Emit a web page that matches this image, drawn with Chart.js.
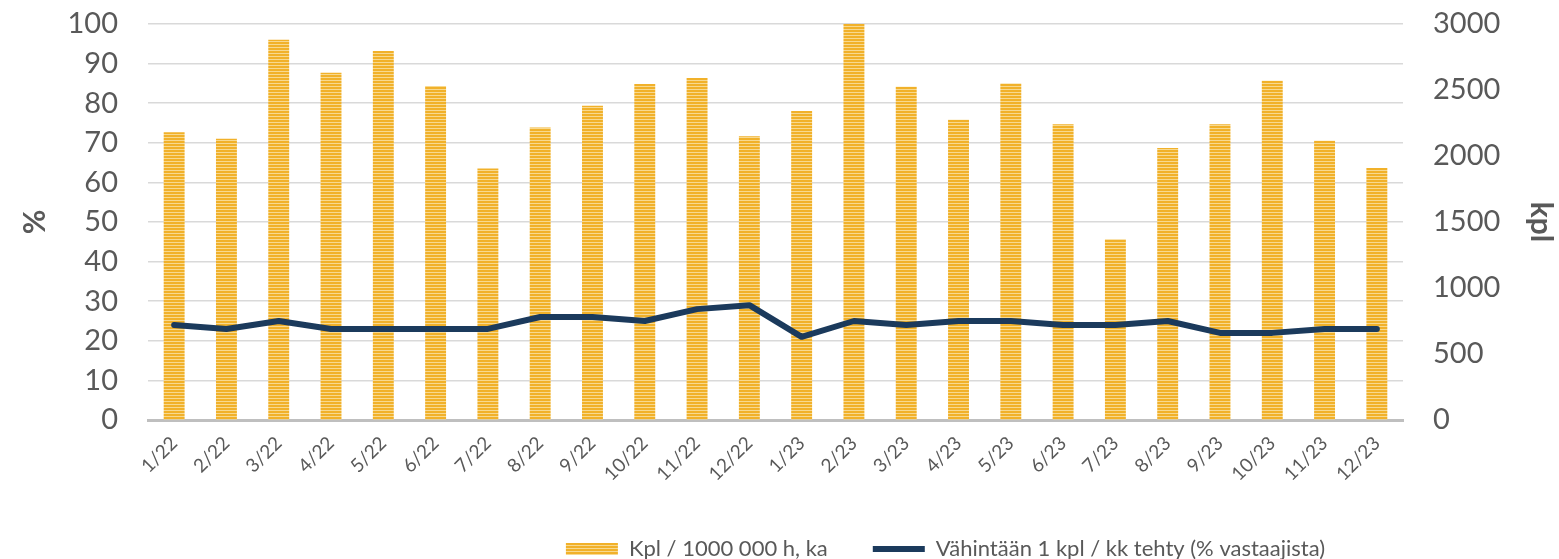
<!DOCTYPE html>
<html><head><meta charset="utf-8">
<script src="https://cdn.jsdelivr.net/npm/chart.js@4/dist/chart.umd.min.js"></script>
<style>html,body{margin:0;padding:0;background:#fff;overflow:hidden}</style>
</head><body>
<canvas id="c" width="1559" height="559" style="width:1559px;height:559px;display:block"></canvas>
<script>
const categories = ['1/22','2/22','3/22','4/22','5/22','6/22','7/22','8/22','9/22','10/22','11/22','12/22',
  '1/23','2/23','3/23','4/23','5/23','6/23','7/23','8/23','9/23','10/23','11/23','12/23'];
const kplValues = [2180,2130,2880,2630,2795,2530,1905,2215,2380,2545,2590,2150,
  2340,3000,2525,2275,2550,2240,1370,2060,2240,2570,2115,1910];
const percentValues = [24,23,25,23,23,23,23,26,26,25,28,29,
  21,25,24,25,25,24,24,25,22,22,23,23];
const barLabel = 'Kpl / 1000 000 h, ka';
const lineLabel = 'Vähintään 1 kpl / kk tehty (% vastaajista)';
const leftTitle = '%';
const rightTitle = 'kpl';

const FONT = 'Lato, "Open Sans", sans-serif';
const TXT = '#595959';

function stripePattern() {
  const p = document.createElement('canvas');
  p.width = 4; p.height = 3;
  const g = p.getContext('2d');
  g.fillStyle = '#F1B12A'; g.fillRect(0, 0, 4, 2);
  g.fillStyle = '#F8D98F'; g.fillRect(0, 2, 4, 1);
  return document.getElementById('c').getContext('2d').createPattern(p, 'repeat');
}
const pattern = stripePattern();

const legendShift = {
  id: 'legendShift',
  afterLayout(chart) {
    if (chart.legend) { chart.legend.left += 166; chart.legend.right += 166; }
  }
};

new Chart(document.getElementById('c'), {
  plugins: [legendShift],
  data: {
    labels: categories,
    datasets: [
      {
        type: 'line', label: lineLabel, data: percentValues, yAxisID: 'y',
        borderColor: '#1B3A5C', backgroundColor: '#1B3A5C', borderWidth: 6,
        pointRadius: 0, tension: 0, borderCapStyle: 'round', borderJoinStyle: 'round',
        pointStyle: 'line', order: 0
      },
      {
        type: 'bar', label: barLabel, data: kplValues, yAxisID: 'y1',
        backgroundColor: pattern, borderWidth: 0, barPercentage: 0.8, categoryPercentage: 0.5,
        pointStyle: 'rect', order: 1
      }
    ]
  },
  options: {
    responsive: false, animation: false,
    layout: { padding: { top: 24, bottom: -11, left: 0, right: 0 } },
    plugins: {
      tooltip: { enabled: false },
      legend: {
        position: 'bottom', reverse: true,
        labels: {
          usePointStyle: true, pointStyleWidth: 52, boxHeight: 12,
          color: TXT, font: { family: FONT, size: 22 }, padding: 45
        }
      }
    },
    scales: {
      x: {
        grid: { display: false, drawTicks: false },
        border: { display: true, color: '#BFBFBF', width: 3 },
        ticks: { color: TXT, font: { family: FONT, size: 19 }, maxRotation: 45, minRotation: 45, padding: 12, autoSkip: false },
        afterFit(s) { s.height = 73; }
      },
      y: {
        position: 'left', min: 0, max: 100,
        ticks: { stepSize: 10, autoSkip: false, color: TXT, font: { family: FONT, size: 29 }, padding: 0 },
        grid: { color: '#D9D9D9', lineWidth: 1.5, drawTicks: true, tickLength: 30, tickColor: 'rgba(0,0,0,0)' },
        border: { display: false },
        title: { display: true, text: leftTitle, color: TXT, font: { family: FONT, size: 30, weight: 'bold' }, padding: { top: 17, bottom: 0 } },
        afterFit(s) { s.width = 148; }
      },
      y1: {
        position: 'right', min: 0, max: 3000,
        ticks: { stepSize: 500, autoSkip: false, color: TXT, font: { family: FONT, size: 29 }, padding: 0,
          callback: (v) => String(v) },
        grid: { display: true, drawOnChartArea: false, drawTicks: true, tickLength: 30, tickColor: 'rgba(0,0,0,0)' },
        border: { display: false },
        title: { display: true, text: rightTitle, color: TXT, font: { family: FONT, size: 30, weight: 'bold' }, padding: 0 },
        afterFit(s) { s.width = 156; }
      }
    }
  }
});
</script>
</body></html>
